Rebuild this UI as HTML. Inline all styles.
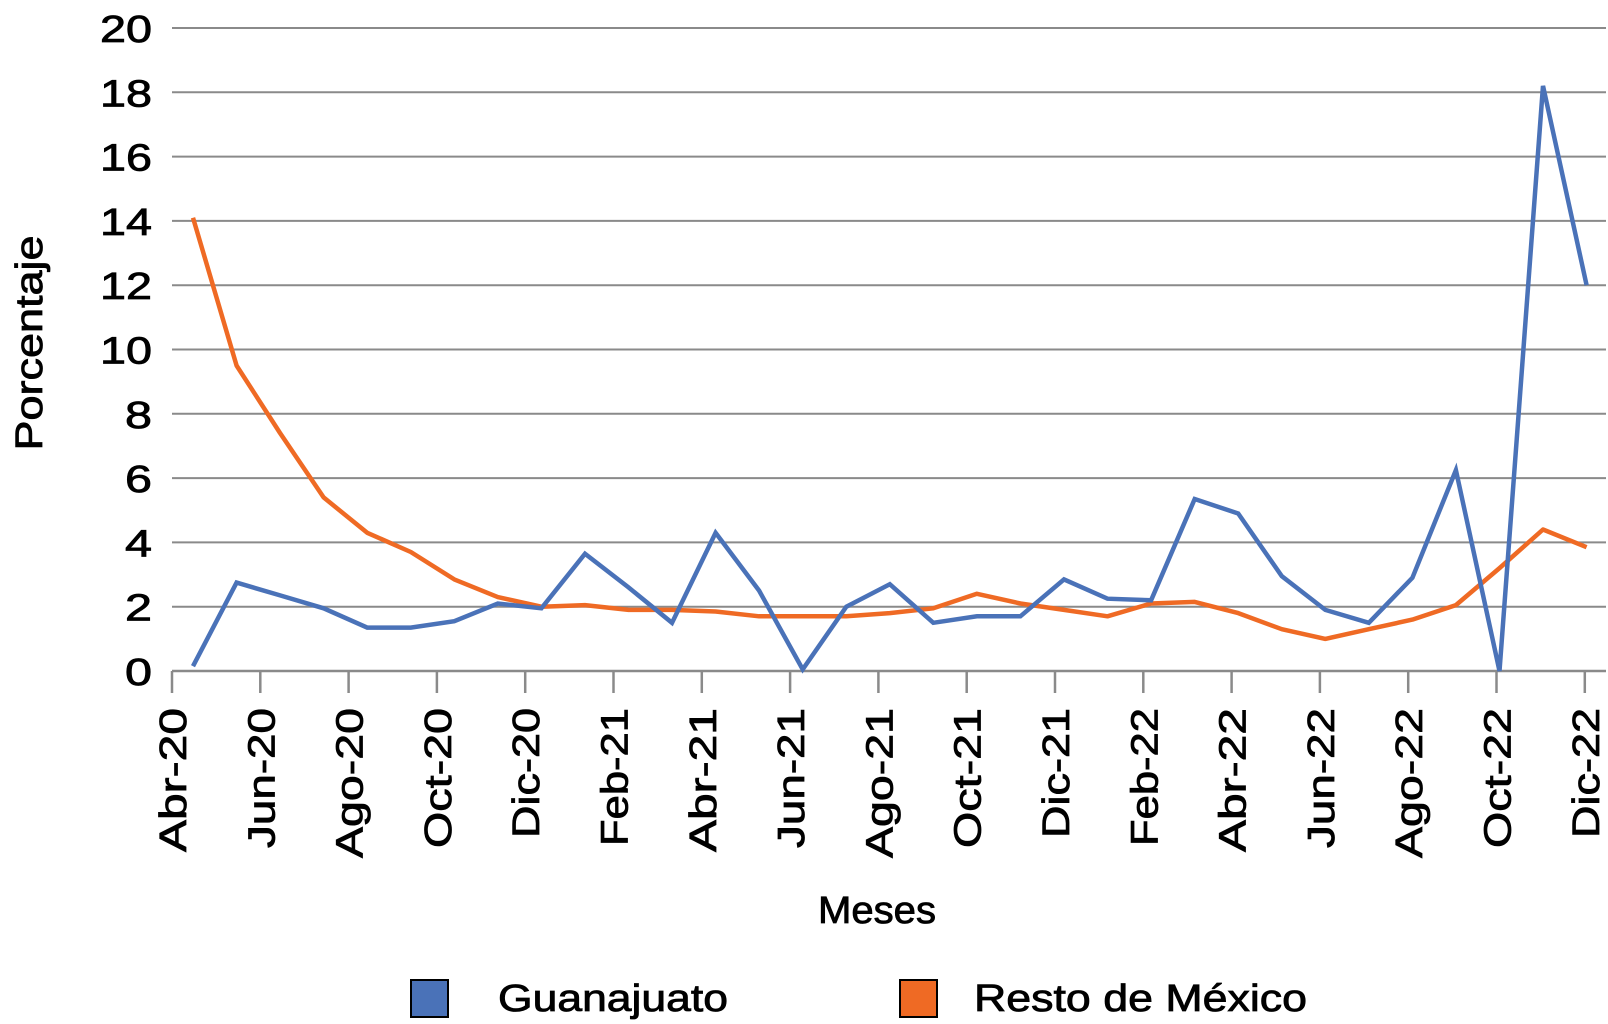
<!DOCTYPE html>
<html><head><meta charset="utf-8"><style>html,body{margin:0;padding:0;background:#fff}svg{display:block}</style></head>
<body>
<svg width="1608" height="1024" viewBox="0 0 1608 1024" xmlns="http://www.w3.org/2000/svg" font-family="'Liberation Sans', sans-serif">
<g stroke="#8a8a8a" stroke-width="2">
<line x1="172" x2="1606" y1="28" y2="28"/><line x1="172" x2="1606" y1="92.3" y2="92.3"/><line x1="172" x2="1606" y1="156.6" y2="156.6"/><line x1="172" x2="1606" y1="220.9" y2="220.9"/><line x1="172" x2="1606" y1="285.2" y2="285.2"/><line x1="172" x2="1606" y1="349.5" y2="349.5"/><line x1="172" x2="1606" y1="413.8" y2="413.8"/><line x1="172" x2="1606" y1="478.1" y2="478.1"/><line x1="172" x2="1606" y1="542.4" y2="542.4"/><line x1="172" x2="1606" y1="606.7" y2="606.7"/><line x1="172" x2="1606" y1="671" y2="671" stroke-width="2.5"/>
</g>
<g id="ticks" stroke="#8a8a8a" stroke-width="2.5"></g>
<g id="yl" font-size="38" text-anchor="end" fill="#000" stroke="#000" stroke-width="0.8"></g>
<g id="xl" font-size="38" fill="#000" stroke="#000" stroke-width="0.8"></g>
<text x="0" y="0" font-size="38" text-anchor="middle" transform="translate(42,343) rotate(-90)" textLength="215" lengthAdjust="spacingAndGlyphs" stroke="#000" stroke-width="0.8">Porcentaje</text>
<text x="818" y="923" font-size="38" textLength="118" lengthAdjust="spacingAndGlyphs" stroke="#000" stroke-width="0.8">Meses</text>
<polyline id="org" fill="none" stroke="#ef6a24" stroke-width="4.5" stroke-linejoin="round"/>
<polyline id="blu" fill="none" stroke="#4a72b8" stroke-width="4.5" stroke-linejoin="miter"/>
<rect x="411" y="980" width="37" height="37" fill="#4a72b8" stroke="#000" stroke-width="2"/>
<text x="498" y="1011" font-size="38" textLength="230" lengthAdjust="spacingAndGlyphs" stroke="#000" stroke-width="0.8">Guanajuato</text>
<rect x="900" y="980" width="37" height="37" fill="#ef6a24" stroke="#000" stroke-width="2"/>
<text x="974" y="1011" font-size="38" textLength="333" lengthAdjust="spacingAndGlyphs" stroke="#000" stroke-width="0.8">Resto de México</text>
</svg>
<script>
var ns="http://www.w3.org/2000/svg";
var b=[0.15,2.75,2.35,1.95,1.35,1.35,1.55,2.1,1.95,3.65,2.6,1.5,4.3,2.5,0.05,2.0,2.7,1.5,1.7,1.7,2.85,2.25,2.2,5.35,4.9,2.95,1.9,1.5,2.9,6.25,0.0,18.2,12.0];
var o=[14.1,9.5,7.4,5.4,4.3,3.7,2.85,2.3,2.0,2.05,1.9,1.9,1.85,1.7,1.7,1.7,1.8,1.95,2.4,2.1,1.9,1.7,2.1,2.15,1.8,1.3,1.0,1.3,1.6,2.05,3.2,4.4,3.85];
function pts(a){return a.map(function(v,i){return (193+i*43.55).toFixed(1)+","+(671-32.15*v).toFixed(1)}).join(" ");}
document.getElementById("blu").setAttribute("points",pts(b));
document.getElementById("org").setAttribute("points",pts(o));
var yl=document.getElementById("yl");
for(var v=0;v<=20;v+=2){var t=document.createElementNS(ns,"text");t.setAttribute("x",152);t.setAttribute("y",(671-32.15*v+14).toFixed(1));
t.setAttribute("textLength",v>=10?52:27);t.setAttribute("lengthAdjust","spacingAndGlyphs");t.textContent=v;yl.appendChild(t);}
var labs=["Abr-20","Jun-20","Ago-20","Oct-20","Dic-20","Feb-21","Abr-21","Jun-21","Ago-21","Oct-21","Dic-21","Feb-22","Abr-22","Jun-22","Ago-22","Oct-22","Dic-22"];
var lens=[144,140,150,140,130,138,144,140,150,140,130,138,144,140,150,140,130];
var tg=document.getElementById("ticks"),xl=document.getElementById("xl");
labs.forEach(function(l,k){var x=172+k*88.3;
var t=document.createElementNS(ns,"line");t.setAttribute("x1",x);t.setAttribute("x2",x);t.setAttribute("y1",671);t.setAttribute("y2",693);tg.appendChild(t);
var s=document.createElementNS(ns,"text");s.setAttribute("transform","translate("+(x+14)+",708) rotate(-90)");s.setAttribute("text-anchor","end");
s.setAttribute("textLength",lens[k]);s.setAttribute("lengthAdjust","spacingAndGlyphs");s.textContent=l;xl.appendChild(s);});
</script>
</body></html>
